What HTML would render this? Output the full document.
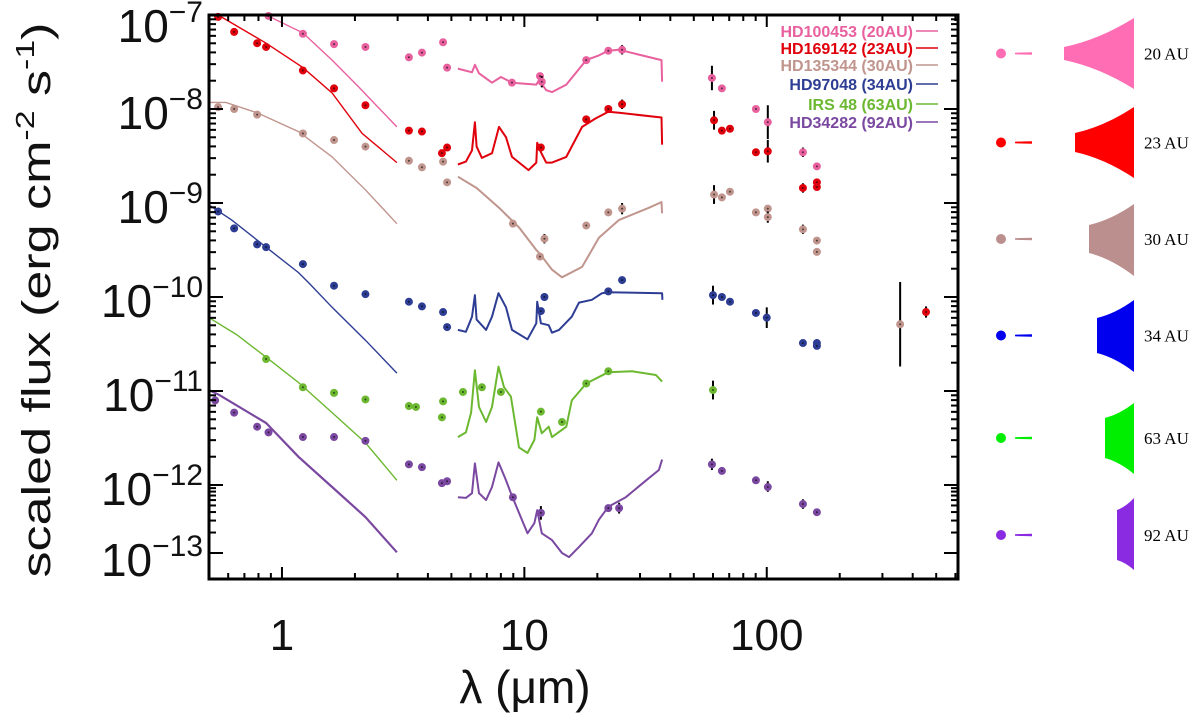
<!DOCTYPE html>
<html><head><meta charset="utf-8">
<style>
html,body{margin:0;padding:0;background:#fff;}
svg{display:block;}
text{font-family:"Liberation Sans",sans-serif;}
text.serif{font-family:"Liberation Serif",serif;}
</style></head>
<body>
<svg id="chart" width="1200" height="714" viewBox="0 0 1200 714" xmlns="http://www.w3.org/2000/svg">
<rect width="1200" height="714" fill="#fff"/>
<g id="plot"></g>
<g id="axes"></g>
<g id="legend"></g>
<g id="discs"></g>
<text x="525" y="703" font-size="46" text-anchor="middle" fill="#111">λ (μm)</text>
<text transform="translate(50,300) rotate(-90)" font-size="40" text-anchor="middle" fill="#111" textLength="555" lengthAdjust="spacingAndGlyphs">scaled flux (erg cm<tspan dy="-16" font-size="26">-2</tspan><tspan dy="16"> s</tspan><tspan dy="-16" font-size="26">-1</tspan><tspan dy="16">)</tspan></text>
</svg>
<script>
// ---- data (wavelength in micron, log10 flux) ----
const seriesNames = ["HD100453 (20AU)","HD169142 (23AU)","HD135344 (30AU)","HD97048 (34AU)","IRS 48 (63AU)","HD34282 (92AU)"];
const pinkModelLam = [0.86,1.22,1.61,2.08,2.98];
const pinkModelLog = [-7.00,-7.19,-7.48,-7.77,-8.19];
const pinkIrsLam = [5.32,6.08,6.25,6.50,7.35,8.0,8.89,11.2,11.5,12.3,13.0,14.9,18.0,20.3,22.2,24.6,36.8,37.0];
const pinkIrsLog = [-7.57,-7.61,-7.53,-7.62,-7.72,-7.66,-7.72,-7.74,-7.69,-7.80,-7.82,-7.74,-7.48,-7.43,-7.38,-7.37,-7.48,-7.71];
const pinkPhotLam = [0.88,1.22,1.64,2.21,3.34,3.78,4.62,4.80,8.89,11.6,11.8,18.0,22.2,25.3,59.4,65.3,90.2,101,141,161];
const pinkPhotLog = [-7.01,-7.20,-7.31,-7.34,-7.45,-7.40,-7.29,-7.56,-7.72,-7.65,-7.71,-7.48,-7.38,-7.37,-7.67,-7.78,-8.00,-8.14,-8.46,-8.61];
const pinkPhotErr = [0,0,0,0,0.04,0,0,0,0,0,0.06,0,0,0.05,0.13,0,0,0.18,0.05,0];

const redModelLam = [0.545,0.86,1.22,1.61,2.14,2.98];
const redModelLog = [-7.00,-7.30,-7.56,-7.83,-8.26,-8.57];
const redIrsLam = [5.32,5.74,6.08,6.25,6.35,6.68,7.35,7.86,8.40,8.89,10.4,11.2,11.3,11.7,12.3,13.0,14.9,17.3,19.7,22.2,24.6,36.8,37.0];
const redIrsLog = [-8.59,-8.56,-8.44,-8.14,-8.40,-8.52,-8.47,-8.19,-8.30,-8.51,-8.65,-8.57,-8.36,-8.46,-8.57,-8.57,-8.51,-8.19,-8.10,-8.03,-8.04,-8.09,-8.38];
const redPhotLam = [0.545,0.635,0.79,0.86,1.22,1.64,2.21,3.34,3.78,4.57,4.80,11.7,18.0,22.2,25.3,60.6,65.3,70.5,90.2,101,141,161,161,454];
const redPhotLog = [-7.02,-7.18,-7.30,-7.34,-7.59,-7.78,-7.96,-8.23,-8.24,-8.47,-8.41,-8.41,-8.11,-8.00,-7.95,-8.12,-8.23,-8.21,-8.46,-8.45,-8.84,-8.78,-8.83,-10.16];
const redPhotErr = [0,0,0,0,0,0,0,0.03,0.03,0,0,0.04,0,0,0.05,0.1,0,0,0,0.12,0.05,0,0,0.06];

const brownModelLam = [0.50,0.587,0.79,1.17,1.61,2.21,2.98];
const brownModelLog = [-7.93,-7.93,-8.04,-8.24,-8.51,-8.86,-9.22];
const brownIrsLam = [5.32,6.35,7.86,9.5,11.2,11.5,13.0,14.3,17.3,20.3,24.6,32.7,36.8,37.0];
const brownIrsLog = [-8.72,-8.84,-9.05,-9.26,-9.50,-9.53,-9.71,-9.79,-9.68,-9.37,-9.18,-9.05,-8.99,-9.11];
const brownPhotLam = [0.545,0.635,0.79,1.22,1.64,2.21,3.34,3.78,4.62,4.80,8.97,11.6,12.1,18.0,22.2,25.3,60.6,65.3,70.5,90.2,101,101,141,161,161,355];
const brownPhotLog = [-7.98,-8.00,-8.06,-8.26,-8.33,-8.40,-8.55,-8.62,-8.56,-8.78,-9.22,-9.57,-9.38,-9.24,-9.10,-9.06,-8.91,-8.94,-8.88,-9.10,-9.06,-9.15,-9.28,-9.40,-9.52,-10.29];
const brownPhotErr = [0,0,0,0,0,0,0.04,0.04,0,0,0,0,0.05,0,0,0.06,0.1,0,0,0,0,0.06,0.05,0,0,0.45];

const blueModelLam = [0.50,0.62,0.86,1.17,1.29,1.61,2.21,2.98];
const blueModelLog = [-9.02,-9.18,-9.47,-9.74,-9.85,-10.11,-10.46,-10.81];
const blueIrsLam = [5.32,5.74,6.08,6.25,6.35,6.95,7.35,7.82,8.40,8.89,10.3,11.2,11.3,11.7,12.6,13.0,13.9,15.7,16.8,19.0,20.9,22.2,37.0,37.1];
const blueIrsLog = [-10.35,-10.37,-10.21,-9.98,-10.24,-10.35,-10.21,-9.96,-10.11,-10.35,-10.45,-10.28,-10.05,-10.28,-10.30,-10.38,-10.35,-10.21,-10.06,-10.03,-9.96,-9.95,-9.96,-10.03];
const bluePhotLam = [0.545,0.635,0.79,0.86,1.22,1.64,2.21,3.34,3.78,4.62,4.80,11.7,12.1,22.2,25.3,60,65.3,70.5,90.2,100,141,161,161];
const bluePhotLog = [-9.09,-9.27,-9.44,-9.47,-9.65,-9.88,-9.97,-10.05,-10.10,-10.16,-10.32,-10.15,-10.00,-9.94,-9.82,-9.98,-10.00,-10.05,-10.17,-10.22,-10.49,-10.49,-10.52];
const bluePhotErr = [0,0,0,0,0,0,0,0,0,0,0,0,0.04,0,0.03,0.1,0,0,0,0.11,0,0,0];

const greenModelLam = [0.50,0.65,0.86,1.17,1.61,2.21,2.98];
const greenModelLog = [-10.22,-10.40,-10.64,-10.91,-11.23,-11.55,-11.95];
const greenIrsLam = [5.32,5.74,6.03,6.25,6.50,6.95,7.35,7.82,8.24,8.8,9.5,10.3,11.0,11.3,11.8,12.6,13.0,14.9,15.7,18.0,22.2,27.8,34.9,37.0];
const greenIrsLog = [-11.49,-11.44,-11.23,-10.78,-11.17,-11.33,-11.17,-10.74,-10.96,-11.06,-11.60,-11.66,-11.52,-11.28,-11.45,-11.38,-11.49,-11.38,-11.10,-10.92,-10.80,-10.79,-10.83,-10.90];
const greenPhotLam = [0.86,1.22,1.64,2.21,3.34,3.57,4.62,4.57,5.58,6.68,8.0,11.7,14.3,18.0,22.2,60];
const greenPhotLog = [-10.66,-10.96,-11.02,-11.09,-11.16,-11.17,-11.11,-11.28,-11.01,-10.96,-11.01,-11.22,-11.33,-10.92,-10.79,-10.99];
const greenPhotErr = [0,0,0.03,0,0.03,0,0,0.03,0,0,0,0,0,0,0,0.1];

const purpleModelLam = [0.50,0.55,0.86,1.17,1.61,2.21,2.98];
const purpleModelLog = [-10.99,-11.04,-11.34,-11.70,-12.03,-12.47,-12.99];
const purpleIrsLam = [5.32,5.74,6.08,6.25,6.50,6.95,7.35,7.82,8.40,8.8,9.5,10.3,11.0,11.3,11.8,13.0,14.3,15.3,16.8,19.0,20.3,22.2,26.2,31.8,35.9,37.0];
const purpleIrsLog = [-12.18,-12.19,-12.12,-11.77,-12.12,-12.22,-12.03,-11.76,-11.95,-12.12,-12.41,-12.71,-12.56,-12.37,-12.71,-12.81,-13.00,-13.06,-12.91,-12.71,-12.51,-12.32,-12.18,-11.95,-11.84,-11.73];
const purplePhotLam = [0.53,0.635,0.79,0.88,1.22,1.64,2.21,3.34,3.78,4.57,4.80,8.97,11.7,22.2,24.6,59.4,65.3,90.2,101,141,161];
const purplePhotLog = [-11.10,-11.23,-11.38,-11.44,-11.49,-11.49,-11.53,-11.78,-11.81,-11.98,-11.96,-12.18,-12.41,-12.34,-12.34,-11.78,-11.85,-11.95,-12.03,-12.28,-12.40];
const purplePhotErr = [0,0,0,0,0,0,0,0,0,0,0,0,0.1,0,0.08,0.06,0,0,0.07,0.07,0];

const xTickLabels = ["1","10","100"];
const yTickLabels = ["-7","-8","-9","-10","-11","-12","-13"];

// ---- axis functions ----
const PL=209, PR=958, PT=15, PB=579;
function X(lam){ return PL + (Math.log10(lam)+0.301)*242.4; }
function Y(lf){ return lf >= -12 ? PT + (-7-lf)*94 : 485 + (-12-lf)*68; }

const NS="http://www.w3.org/2000/svg";
function mk(tag, attrs, parent){ const e=document.createElementNS(NS,tag); for(const k in attrs) e.setAttribute(k,attrs[k]); parent.appendChild(e); return e; }
const plot=document.getElementById('plot'), axes=document.getElementById('axes'), legend=document.getElementById('legend'), discs=document.getElementById('discs');

const series = [
 {key:"hd100453",color:"#e8609e",m:[pinkModelLam,pinkModelLog],i:[pinkIrsLam,pinkIrsLog],p:[pinkPhotLam,pinkPhotLog,pinkPhotErr]},
 {key:"hd169142",color:"#e0000c",m:[redModelLam,redModelLog],i:[redIrsLam,redIrsLog],p:[redPhotLam,redPhotLog,redPhotErr]},
 {key:"hd135344",color:"#c0958d",m:[brownModelLam,brownModelLog],i:[brownIrsLam,brownIrsLog],p:[brownPhotLam,brownPhotLog,brownPhotErr]},
 {key:"hd97048",color:"#2e3d94",m:[blueModelLam,blueModelLog],i:[blueIrsLam,blueIrsLog],p:[bluePhotLam,bluePhotLog,bluePhotErr]},
 {key:"irs48",color:"#6cb830",m:[greenModelLam,greenModelLog],i:[greenIrsLam,greenIrsLog],p:[greenPhotLam,greenPhotLog,greenPhotErr]},
 {key:"hd34282",color:"#7a48a0",m:[purpleModelLam,purpleModelLog],i:[purpleIrsLam,purpleIrsLog],p:[purplePhotLam,purplePhotLog,purplePhotErr]}
];

function pathOf(lams, logs){ return lams.map((l,j)=>(j?"L":"M")+X(l).toFixed(1)+","+Y(logs[j]).toFixed(1)).join(" "); }

series.forEach((s,si)=>{
  const m = mk('path',{d:pathOf(s.m[0],s.m[1]),fill:'none',stroke:s.color,'stroke-width':si===5?2.2:1.4},plot);
  
  
  const ir = mk('path',{d:pathOf(s.i[0],s.i[1]),fill:'none',stroke:s.color,'stroke-width':2,'stroke-linejoin':'round'},plot);
  
  
  const [pl,pg,pe]=s.p;
  pl.forEach((l,j)=>{
    const cx=X(l), cy=Y(pg[j]);
    if(pe[j]>0){
      const eb = mk('line',{x1:cx,x2:cx,y1:Y(pg[j]+pe[j]),y2:Y(pg[j]-pe[j]),stroke:'#000','stroke-width':2},plot);
      
      
    }
    const c = mk('circle',{cx:cx,cy:cy,r:4,fill:s.color},plot);
    
    
    mk('circle',{cx:cx,cy:cy,r:1,fill:'#000','fill-opacity':0.6},plot);
  });
});

// ---- frame & ticks ----
const fr = mk('rect',{x:PL,y:PT,width:PR-PL,height:PB-PT,fill:'none',stroke:'#000','stroke-width':3},axes);


for(let d=-1; d<=2; d++){
  for(let k=1;k<10;k++){
    const v=k*Math.pow(10,d); const x=X(v);
    if(x<PL+1||x>PR-1) continue;
    const len = k===1?12:6;
    mk('line',{x1:x,x2:x,y1:PB,y2:PB-len,stroke:'#000','stroke-width':2},axes);
    mk('line',{x1:x,x2:x,y1:PT,y2:PT+len,stroke:'#000','stroke-width':2},axes);
  }
}
xTickLabels.forEach(t=>{
  const tx = mk('text',{x:X(parseFloat(t)),y:650,'font-size':44,'text-anchor':'middle',fill:'#111'},axes);
  tx.textContent=t;
  
  
});
for(let e=-13; e<=-7; e++){
  for(let k=1;k<10;k++){
    const lf=e+Math.log10(k); if(lf>-7) continue;
    const y=Y(lf); if(y>PB-1) continue;
    const len = k===1?14:7;
    mk('line',{x1:PL,x2:PL+len,y1:y,y2:y,stroke:'#000','stroke-width':2},axes);
    mk('line',{x1:PR,x2:PR-len,y1:y,y2:y,stroke:'#000','stroke-width':2},axes);
  }
}
yTickLabels.forEach((t,j)=>{
  const lf=parseFloat(t); let by=Y(lf)+20;
  if(j===0) by=42; if(j===yTickLabels.length-1) by=576;
  const tx = mk('text',{x:203,y:by,'font-size':46,'text-anchor':'end',fill:'#111'},axes);
  
  
  const a=document.createElementNS(NS,'tspan'); a.textContent='10'; tx.appendChild(a);
  const b=document.createElementNS(NS,'tspan'); b.setAttribute('dy','-20'); b.setAttribute('font-size','30'); b.textContent='\u2212'+t.slice(1); tx.appendChild(b);
});

// ---- legend ----
const legY=[31,48,65,84,104,122];
seriesNames.forEach((n,j)=>{
  const t = mk('text',{x:913,y:legY[j]+6,'font-size':16,'font-weight':'bold','text-anchor':'end',fill:series[j].color},legend);
  t.textContent=n;
  
  
  mk('line',{x1:916,x2:938,y1:legY[j],y2:legY[j],stroke:series[j].color,'stroke-width':1.6},legend);
});

// ---- disc schematics ----
const discCols=["#ff6eb4","#ff0000","#bc8f8f","#0000ee","#00ee00","#8a2be2"];
const discLabels=["20 AU","23 AU","30 AU","34 AU","63 AU","92 AU"];
const discGeo=[[1064,47,60,18,89],[1075,133,152,107,178],[1089,225,253,204,276],[1097,318,353,300,372],[1105,418,458,403,474],[1117,510,560,498,570]];
discGeo.forEach((g,j)=>{
  const [lx,lt,lb,rt,rb]=g, rx=1134, yc=(lt+lb)/2, mx=(lx+rx)/2;
  mk('circle',{cx:1001,cy:yc,r:5,fill:discCols[j]},discs);
  mk('path',{d:`M1015,${yc-0.8} L1032,${yc-1.2} L1032,${yc+1.2} L1015,${yc+0.8}Z`,fill:discCols[j]},discs);
  const p = mk('path',{d:`M${lx},${lt} Q${mx},${lt-(lt-rt)*0.25} ${rx},${rt} L${rx},${rb} Q${mx},${lb+(rb-lb)*0.25} ${lx},${lb} Z`,fill:discCols[j]},discs);
  
  
  const t = mk('text',{x:1144,y:yc+6,'font-size':17,fill:'#000','class':'serif'},discs);
  t.textContent=discLabels[j];
  
  
});
</script>
</body></html>
